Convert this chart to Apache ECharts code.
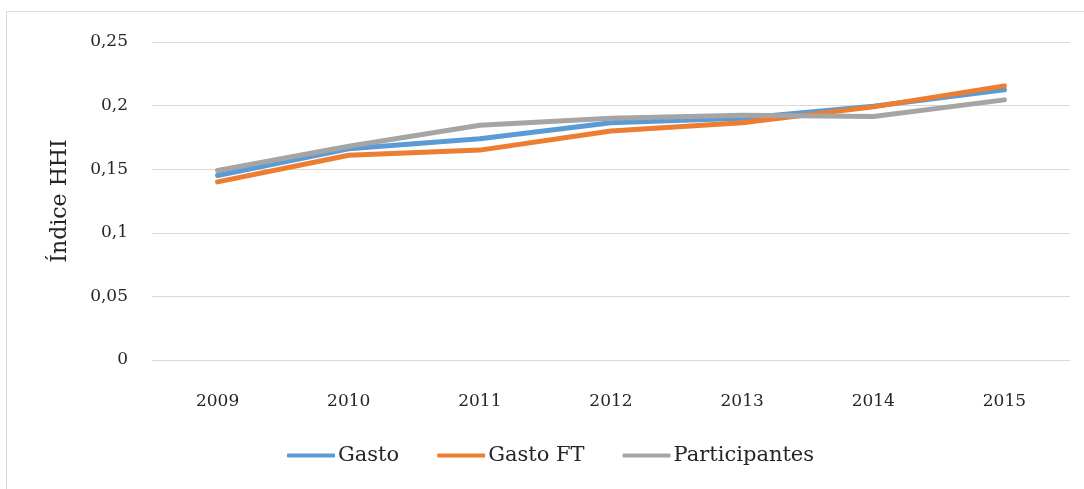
<!DOCTYPE html>
<html>
<head>
<meta charset="utf-8">
<script src="https://cdn.jsdelivr.net/npm/echarts@6/dist/echarts.min.js"></script>
<style>
	html, body { margin: 0; padding: 0; background: #fff; }
	#hhiChart { width: 1084px; height: 489px; }
</style>
</head>
<body>
<div id="hhiChart"></div>
<script>
// años del eje x
const years = ["2009", "2010", "2011", "2012", "2013", "2014", "2015"];

// valores del índice HHI
const gasto = [0.145, 0.166, 0.174, 0.1865, 0.19, 0.1995, 0.2125];
const gastoFT = [0.14, 0.161, 0.165, 0.18, 0.1865, 0.199, 0.2155];
const participantes = [0.149, 0.168, 0.1845, 0.19, 0.1925, 0.1915, 0.2045];

const yTicks = [0, 0.05, 0.1, 0.15, 0.2, 0.25];

const seriesNames = ["Gasto", "Gasto FT", "Participantes"];
const seriesColors = ["#5B9BD5", "#ED7D31", "#A5A5A5"];

function hhiChart() {
	let dom = document.getElementById("hhiChart");
	let myChart = echarts.init(dom, null, { renderer: "canvas" });

	const font = "DejaVu Serif";
	const textColor = "#262626";

	let seriesData = [gasto, gastoFT, participantes];

	let option = {
		backgroundColor: "#fff",
		animation: false,
		graphic: [
			{
				type: "rect",
				shape: { x: 6.5, y: 11.5, width: 1200, height: 600 },
				style: { fill: "none", stroke: "#d9d9d9", lineWidth: 1 },
				silent: true,
			},
		],
		grid: {
			left: 152,
			right: 14,
			top: 42,
			bottom: 129,
		},
		legend: {
			data: seriesNames,
			left: 282,
			top: 440,
			icon: "roundRect",
			itemWidth: 48,
			itemHeight: 4,
			itemGap: 38,
			textStyle: { fontFamily: font, fontSize: 21, color: textColor, padding: [0, 0, 0, -2] },
		},
		xAxis: {
			type: "category",
			data: years,
			boundaryGap: true,
			axisLine: { show: true, lineStyle: { color: "#d9d9d9" } },
			axisTick: { show: false },
			axisLabel: { fontFamily: font, fontSize: 17, color: textColor, margin: 33 },
		},
		yAxis: {
			type: "value",
			min: yTicks[0],
			max: yTicks[yTicks.length - 1],
			interval: 0.05,
			name: "Índice HHI",
			nameLocation: "middle",
			nameRotate: 90,
			nameGap: 81,
			nameTextStyle: { fontFamily: font, fontSize: 22, color: textColor },
			axisLine: { show: false },
			axisTick: { show: false },
			splitLine: { lineStyle: { color: "#d9d9d9", width: 1 } },
			axisLabel: {
				fontFamily: font,
				fontSize: 17,
				color: textColor,
				margin: 24,
				formatter: function (v) {
					return String(Math.round(v * 100) / 100).replace(".", ",");
				},
			},
		},
		series: seriesNames.map(function (name, i) {
			return {
				name: name,
				type: "line",
				data: seriesData[i],
				symbol: "none",
				color: seriesColors[i],
				lineStyle: { width: 5, color: seriesColors[i], cap: "round", join: "round" },
			};
		}),
	};

	myChart.setOption(option);
	window.addEventListener("resize", myChart.resize);
}

(function init() {
	hhiChart();
})();
</script>
</body>
</html>
